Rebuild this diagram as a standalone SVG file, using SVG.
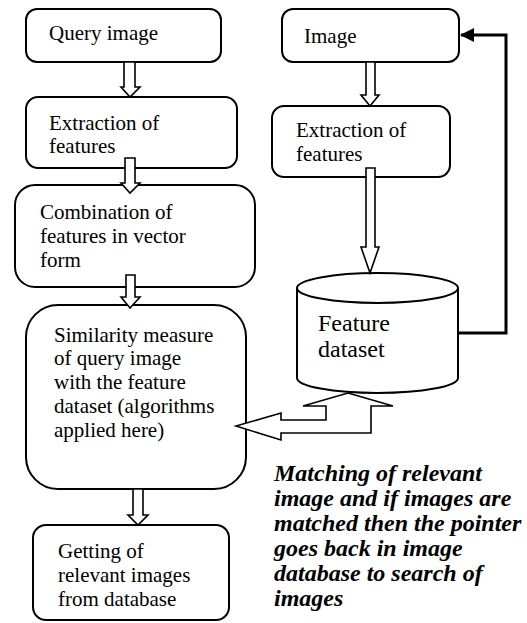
<svg xmlns="http://www.w3.org/2000/svg" width="527" height="623" viewBox="0 0 527 623">
<defs>
<style>
.box{fill:#fff;stroke:#000;stroke-width:2}
.harrow{fill:#fff;stroke:#000;stroke-width:1.6;stroke-linejoin:miter}
.t{font-family:"Liberation Serif","Times New Roman",serif;font-size:21px;fill:#000}
.t24{font-family:"Liberation Serif","Times New Roman",serif;font-size:24px;fill:#000}
.bi{font-family:"Liberation Serif","Times New Roman",serif;font-size:24px;font-weight:bold;font-style:italic;fill:#000}
.line{fill:none;stroke:#000;stroke-width:3}
</style>
<marker id="ah" markerWidth="14" markerHeight="14" refX="13" refY="7" orient="auto" markerUnits="userSpaceOnUse">
<path d="M0,0 L14,7 L0,14 Z" fill="#000"/>
</marker>
</defs>
<rect width="527" height="623" fill="#fff"/>

<g id="query-image">
<rect class="box" x="26" y="9" width="195" height="53" rx="11"/>
<text class="t" x="49" y="40">Query image</text>
</g>

<g id="extraction-left">
<rect class="box" x="26" y="97" width="211" height="71" rx="12"/>
<text class="t" x="49" y="130">Extraction of</text>
<text class="t" x="49" y="153">features</text>
</g>

<g id="combination">
<rect class="box" x="15" y="185" width="240" height="102" rx="20"/>
<text class="t" x="40" y="219">Combination of</text>
<text class="t" x="40" y="243">features in vector</text>
<text class="t" x="40" y="267">form</text>
</g>

<g id="similarity">
<rect class="box" x="26" y="305" width="220" height="184" rx="32"/>
<text class="t" x="54" y="342">Similarity measure</text>
<text class="t" x="54" y="365">of query image</text>
<text class="t" x="54" y="389">with the feature</text>
<text class="t" x="54" y="413">dataset (algorithms</text>
<text class="t" x="54" y="437">applied here)</text>
</g>

<g id="getting">
<rect class="box" x="33" y="525" width="196" height="95" rx="13"/>
<text class="t" x="58" y="558">Getting of</text>
<text class="t" x="58" y="582">relevant images</text>
<text class="t" x="58" y="606">from database</text>
</g>

<g id="image">
<rect class="box" x="282" y="9" width="177" height="53" rx="11"/>
<text class="t" x="304" y="43">Image</text>
</g>

<g id="extraction-right">
<rect class="box" x="272" y="106" width="178" height="71" rx="12"/>
<text class="t" x="296" y="137">Extraction of</text>
<text class="t" x="296" y="161">features</text>
</g>

<g id="feature-dataset">
<path class="box" d="M297,288 L297,378 A80.5,15 0 0 0 458,378 L458,288"/>
<ellipse class="box" cx="377.5" cy="288" rx="80.5" ry="15"/>
<text class="t24" x="318" y="331">Feature</text>
<text class="t24" x="318" y="357">dataset</text>
</g>

<g id="connectors">
<polygon class="harrow" points="124,62 135,62 135,87 140,87 130,97 121,87 124,87"/>
<polygon class="harrow" points="125,158 135,158 135,183 140,183 130,193 121,183 125,183"/>
<polygon class="harrow" points="126,275 135,275 135,297 140,297 130,308 121,297 126,297"/>
<polygon class="harrow" points="133,489 143,489 143,515 148,515 138,525 128,515 133,515"/>
<polygon class="harrow" points="366,62 375,62 375,95 379,95 370,106 361,95 366,95"/>
<polygon class="harrow" points="366,168 375,168 375,247 379,247 370,273 361,247 366,247"/>
<polygon class="harrow" points="348,393 393,406 371,406 371,433 281,433 281,440 236,426 281,413 281,420 326,420 326,406 303,406"/>
<polyline class="line" points="458,333 506,333 506,35 461,35" marker-end="url(#ah)"/>
</g>

<g id="caption">
<text class="bi" x="274" y="481">Matching of relevant</text>
<text class="bi" x="274" y="506">image and if images are</text>
<text class="bi" x="274" y="531">matched then the pointer</text>
<text class="bi" x="274" y="556">goes back in image</text>
<text class="bi" x="274" y="581">database to search of</text>
<text class="bi" x="274" y="606">images</text>
</g>
</svg>
